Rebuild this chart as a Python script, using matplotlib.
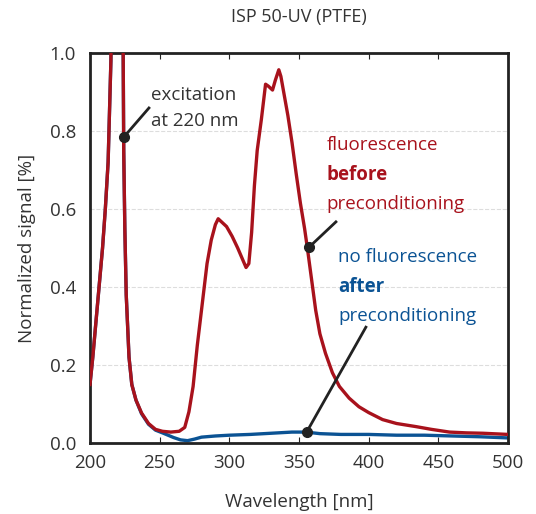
import matplotlib
matplotlib.use('Agg')
import matplotlib.pyplot as plt

plt.rcParams['font.family'] = ['Open Sans', 'DejaVu Sans']

# Emission spectrum before preconditioning (wavelength in nm, normalized signal)
wl_before = [200, 202, 204, 207, 209, 211, 213, 215, 217, 220, 222, 223.5, 224.2,
             225, 226, 228, 230, 233, 237, 242, 247, 252, 258, 264, 268, 271,
             274, 277, 281, 284, 287, 290, 292, 295, 298, 302, 306, 309, 312,
             314, 316, 318, 320, 323, 326, 328, 331, 333, 335.5, 337, 339, 342,
             345, 348, 351, 354, 356, 359, 362, 365, 369, 374, 379, 386, 393,
             400, 410, 420, 434, 445, 458, 470, 482, 500]
sig_before = [0.15, 0.22, 0.30, 0.42, 0.50, 0.60, 0.72, 0.98, 1.6, 2.4, 2.0, 1.2, 0.75,
              0.55, 0.38, 0.22, 0.15, 0.11, 0.077, 0.05, 0.035, 0.03, 0.028, 0.03, 0.04, 0.08,
              0.145, 0.25, 0.37, 0.46, 0.52, 0.56, 0.575, 0.565, 0.555, 0.53, 0.50, 0.475, 0.45,
              0.46, 0.54, 0.66, 0.75, 0.83, 0.92, 0.915, 0.905, 0.93, 0.957, 0.94, 0.90, 0.84,
              0.77, 0.69, 0.615, 0.55, 0.50, 0.42, 0.34, 0.28, 0.23, 0.18, 0.145, 0.115, 0.093,
              0.078, 0.06, 0.05, 0.042, 0.035, 0.028, 0.026, 0.025, 0.022]

# Emission spectrum after preconditioning
wl_after = [200, 202, 204, 207, 209, 211, 213, 215, 217, 220, 222, 223.5, 224.2,
            225, 226, 228, 230, 233, 237, 242, 247, 252, 256, 260, 265, 270, 275,
            280, 290, 300, 315, 330, 345, 355, 365, 380, 400, 420, 440, 460, 480, 500]
sig_after = [0.15, 0.22, 0.30, 0.42, 0.50, 0.60, 0.72, 0.98, 1.6, 2.4, 2.0, 1.2, 0.75,
             0.55, 0.38, 0.22, 0.15, 0.11, 0.075, 0.048, 0.033, 0.026, 0.02, 0.014, 0.008, 0.006, 0.01,
             0.015, 0.018, 0.02, 0.022, 0.025, 0.028, 0.028, 0.024, 0.022, 0.022, 0.02, 0.02, 0.018, 0.016, 0.013]

red = '#A8121C'
blue = '#0B5394'
txt = '#333333'

fig = plt.figure(figsize=(5.36, 5.14), dpi=100)
ax = fig.add_axes([90 / 536, 1 - 443 / 514, 418 / 536, 390 / 514])

ax.plot(wl_after, sig_after, color=blue, lw=2.4, zorder=2)
ax.plot(wl_before, sig_before, color=red, lw=2.4, zorder=3)

ax.set_xlim(200, 500)
ax.set_ylim(0, 1.0)
ax.set_xticks(range(200, 501, 50))
ax.set_yticks([0, 0.2, 0.4, 0.6, 0.8, 1.0])
ax.set_yticklabels(['0.0', '0.2', '0.4', '0.6', '0.8', '1.0'])
ax.yaxis.grid(True, ls='--', color='#dddddd', lw=0.8)
ax.set_axisbelow(True)
ax.tick_params(axis='x', direction='in', length=4, top=True, labelsize=13.5,
               colors='#222222', labelcolor=txt, pad=8)
ax.tick_params(axis='y', length=0, labelsize=13.5, labelcolor=txt, pad=10)
for s in ax.spines.values():
    s.set_linewidth(2)
    s.set_color('#222222')

ax.set_xlabel('Wavelength [nm]', fontsize=13.5, color=txt, labelpad=15)
ax.set_ylabel('Normalized signal [%]', fontsize=13.5, color=txt, labelpad=10)
ax.set_title('ISP 50-UV (PTFE)', fontsize=13, color=txt, pad=22)

# Callout: excitation line
ax.plot([224.4, 242.3], [0.785, 0.859], color='#222222', lw=2, zorder=4)
ax.plot(224.4, 0.785, 'o', color='#222222', ms=7, zorder=5)
ax.text(244, 0.893, 'excitation', fontsize=13.5, color=txt, va='center')
ax.text(244, 0.825, 'at 220 nm', fontsize=13.5, color=txt, va='center')

# Callout: fluorescence before preconditioning
ax.plot([357.5, 376.5], [0.503, 0.567], color='#222222', lw=2, zorder=4)
ax.plot(357.5, 0.503, 'o', color='#222222', ms=7, zorder=5)
ax.text(370, 0.764, 'fluorescence', fontsize=13.5, color=red, va='center')
ax.text(370, 0.687, 'before', fontsize=13.5, color=red, va='center', fontweight='bold')
ax.text(370, 0.613, 'preconditioning', fontsize=13.5, color=red, va='center')

# Callout: no fluorescence after preconditioning
ax.plot([355.5, 398], [0.028, 0.297], color='#222222', lw=2, zorder=4)
ax.plot(355.5, 0.028, 'o', color='#222222', ms=7, zorder=5)
ax.text(378, 0.477, 'no fluorescence', fontsize=13.5, color=blue, va='center')
ax.text(378, 0.40, 'after', fontsize=13.5, color=blue, va='center', fontweight='bold')
ax.text(378, 0.326, 'preconditioning', fontsize=13.5, color=blue, va='center')

fig.savefig('out.png', dpi=100)
